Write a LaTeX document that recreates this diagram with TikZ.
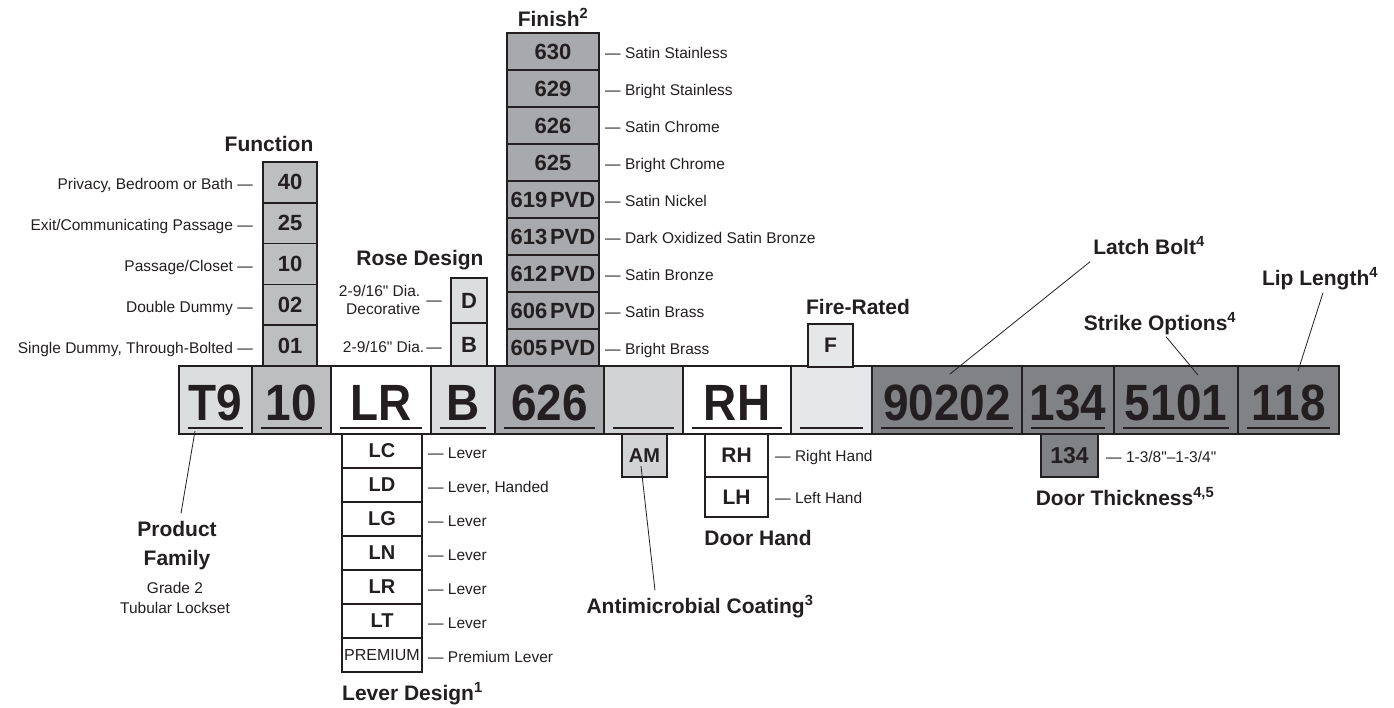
\documentclass[tikz,border=0pt]{standalone}
\usepackage{fontspec}
\setmainfont{Liberation Sans}
\newfontfamily\bignum{Liberation Sans}[FakeStretch=0.9]
\newfontfamily\qfont{Liberation Sans}
\newcommand{\inch}{{\qfont\symbol{34}}}
\definecolor{ink}{HTML}{231F20}
\definecolor{cLight}{HTML}{DCDDDE}
\definecolor{cMid}{HTML}{BCBEC0}
\definecolor{cFin}{HTML}{A7A9AC}
\definecolor{cAM}{HTML}{D1D3D4}
\definecolor{cFire}{HTML}{E6E7E8}
\definecolor{cDark}{HTML}{808285}
\tikzset{
  box/.style={draw=ink, line width=1.5pt, inner sep=0pt, text=ink, font=\bfseries\fontsize{22}{22}\selectfont},
  barcell/.style={draw=ink, line width=1.8pt, inner sep=0pt, text=ink, minimum height=68pt, text height=40pt, text depth=0pt, font=\bignum\bfseries\fontsize{51}{51}\selectfont},
  labbase/.style={inner sep=0pt, text=ink, font=\fontsize{15.5}{18.5}\selectfont},
  lab/.style={labbase, text height=11.2pt, text depth=0pt},
  ttl/.style={inner sep=1pt, text=ink, text height=15pt, text depth=0pt, font=\bfseries\fontsize{21}{25}\selectfont},
  uline/.style={draw=ink, line width=2pt},
  leader/.style={draw=ink, line width=0.8pt},
  fnbox/.style={box, fill=cMid, minimum width=54pt, minimum height=40.8pt},
  finbox/.style={box, fill=cFin, minimum width=92pt, minimum height=37pt},
  lvbox/.style={box, fill=white, minimum width=80pt, minimum height=34pt, font=\bfseries\fontsize{20}{20}\selectfont},
}
\begin{document}
\begin{tikzpicture}[x=1pt,y=-1pt]
\useasboundingbox (0,0) rectangle (1394,708);

% main bar
\foreach \n/\cx/\w/\f/\t in {cT9/215.5/73/cLight/T9, cFn/291.5/79/cMid/10, cLv/381/100/white/LR, cRs/463/64/cLight/B, cFi/549.5/109/cFin/626, cAm/643.5/79/cAM/{}, cDh/737/108/white/RH, cFr/831.5/81/cFire/{}, cLb/947/150/cDark/90202, cDt/1068/92/cDark/134, cSo/1176/124/cDark/5101, cLl/1288.5/101/cDark/118}{
  \node[barcell, fill=\f, minimum width=\w pt] (\n) at (\cx,400) {\t};
  \draw[uline] ([xshift=10pt,yshift=7pt]\n.south west) -- ([xshift=-10pt,yshift=7pt]\n.south east);
}

% Function
\node[ttl] (tFn) at (269,144) {Function};
\node[fnbox] (f40) at (290,182.4) {40};
\node[fnbox] (f25) at (290,223.2) {25};
\node[fnbox] (f10) at (290,264.0) {10};
\node[fnbox] (f02) at (290,304.8) {02};
\node[fnbox] (f01) at (290,345.6) {01};
\node[lab, anchor=east] (lf40) at (253,184.4) {Privacy, Bedroom or Bath —};
\node[lab, anchor=east] (lf25) at (253,225.2) {Exit/Communicating Passage —};
\node[lab, anchor=east] (lf10) at (253,266.0) {Passage/Closet —};
\node[lab, anchor=east] (lf02) at (253,306.8) {Double Dummy —};
\node[lab, anchor=east] (lf01) at (253,347.6) {Single Dummy, Through-Bolted —};

% Finish
\node[ttl] (tFi) at (553,19) {Finish\textsuperscript{2}};
\node[finbox] (n630) at (553,51.5) {630};
\node[finbox] (n629) at (553,88.5) {629};
\node[finbox] (n626) at (553,125.5) {626};
\node[finbox] (n625) at (553,162.5) {625};
\node[finbox] (n619) at (553,199.5) {619\hspace{0.12em}PVD};
\node[finbox] (n613) at (553,236.5) {613\hspace{0.12em}PVD};
\node[finbox] (n612) at (553,273.5) {612\hspace{0.12em}PVD};
\node[finbox] (n606) at (553,310.5) {606\hspace{0.12em}PVD};
\node[finbox] (n605) at (553,347.5) {605\hspace{0.12em}PVD};
\node[lab, anchor=west] (l630) at (605,52.5) {— Satin Stainless};
\node[lab, anchor=west] (l629) at (605,89.5) {— Bright Stainless};
\node[lab, anchor=west] (l626) at (605,126.5) {— Satin Chrome};
\node[lab, anchor=west] (l625) at (605,163.5) {— Bright Chrome};
\node[lab, anchor=west] (l619) at (605,200.5) {— Satin Nickel};
\node[lab, anchor=west] (l613) at (605,237.5) {— Dark Oxidized Satin Bronze};
\node[lab, anchor=west] (l612) at (605,274.5) {— Satin Bronze};
\node[lab, anchor=west] (l606) at (605,311.5) {— Satin Brass};
\node[lab, anchor=west] (l605) at (605,348.5) {— Bright Brass};

% Rose Design
\node[ttl] (tRs) at (420,258) {Rose Design};
\node[box, fill=cLight, minimum width=36pt, minimum height=45pt] (rD) at (469,300.5) {D};
\node[box, fill=cLight, minimum width=36pt, minimum height=43pt] (rB) at (469,344.5) {B};
\node[labbase, anchor=east] (lrD) at (442,302) {\begin{tabular}{@{}r@{}}2-9/16\inch{} Dia.\\Decorative\end{tabular}\hspace{6pt}—};
\node[lab, anchor=east] (lrB) at (442,347) {2-9/16\inch{} Dia.\hspace{2pt}—};

% Fire-Rated
\node[ttl] (tFr) at (858,307) {Fire-Rated};
\node[box, fill=cFire, minimum width=45pt, minimum height=43pt, font=\bfseries\fontsize{21}{21}\selectfont] (bF) at (830.5,345.5) {F};

% Lever Design
\node[lvbox] (vLC) at (382,451) {LC};
\node[lvbox] (vLD) at (382,485) {LD};
\node[lvbox] (vLG) at (382,519) {LG};
\node[lvbox] (vLN) at (382,553) {LN};
\node[lvbox] (vLR) at (382,587) {LR};
\node[lvbox] (vLT) at (382,621) {LT};
\node[lvbox, font=\fontsize{16}{16}\selectfont] (vPR) at (382,655) {PREMIUM};
\node[lab, anchor=west] (lLC) at (428,453) {— Lever};
\node[lab, anchor=west] (lLD) at (428,487) {— Lever, Handed};
\node[lab, anchor=west] (lLG) at (428,521) {— Lever};
\node[lab, anchor=west] (lLN) at (428,555) {— Lever};
\node[lab, anchor=west] (lLR) at (428,589) {— Lever};
\node[lab, anchor=west] (lLT) at (428,623) {— Lever};
\node[lab, anchor=west] (lPR) at (428,657) {— Premium Lever};
\node[ttl, anchor=west] (tLv) at (341,693) {Lever Design\textsuperscript{1}};

% Antimicrobial
\node[box, fill=cAM, minimum width=45pt, minimum height=43pt, font=\bfseries\fontsize{20}{20}\selectfont] (bAM) at (644.5,455.5) {AM};
\node[ttl] (tAc) at (700,606) {Antimicrobial Coating\textsuperscript{3}};
\coordinate (amA) at (641,466);
\draw[leader] (amA) -- ([xshift=-45pt,yshift=7pt]tAc.north);

% Door Hand
\node[box, fill=white, minimum width=63pt, minimum height=43pt, font=\bfseries\fontsize{21}{21}\selectfont] (hRH) at (736.5,455.5) {RH};
\node[box, fill=white, minimum width=63pt, minimum height=40pt, font=\bfseries\fontsize{21}{21}\selectfont] (hLH) at (736.5,497) {LH};
\node[lab, anchor=west] (lRH) at (775,456) {— Right Hand};
\node[lab, anchor=west] (lLH) at (775,498) {— Left Hand};
\node[ttl] (tDh) at (758,538) {Door Hand};

% Door Thickness
\node[box, fill=cDark, minimum width=57pt, minimum height=43pt, font=\bfseries\fontsize{23}{23}\selectfont] (b134) at (1069.5,455.5) {134};
\node[lab, anchor=west] (l134) at (1106,457) {— 1-3/8\inch–1-3/4\inch};
\node[ttl] (tDt) at (1125,498) {Door Thickness\textsuperscript{4,5}};

% Product Family
\node[ttl] (pf1) at (177,529) {Product};
\node[ttl] (pf2) at (177,558) {Family};
\node[lab] (pf3) at (175,588) {Grade 2};
\node[lab] (pf4) at (175,608) {Tubular Lockset};
\coordinate (pfA) at (195,431);
\draw[leader] (pfA) -- ([xshift=4pt,yshift=7pt]pf1.north);

% Latch Bolt, Strike, Lip
\node[ttl] (tLb) at (1149,247) {Latch Bolt\textsuperscript{4}};
\node[ttl] (tSo) at (1160,323) {Strike Options\textsuperscript{4}};
\node[ttl] (tLl) at (1320,278) {Lip Length\textsuperscript{4}};
\coordinate (lbA) at (950,374);
\coordinate (soA) at (1198,375);
\coordinate (llA) at (1298,371);
\draw[leader] ([xshift=-2pt,yshift=-6pt]tLb.south west) -- (lbA);
\draw[leader] ([xshift=6pt,yshift=-5pt]tSo.south) -- (soA);
\draw[leader] ([xshift=3pt,yshift=-6pt]tLl.south) -- (llA);
\end{tikzpicture}
\end{document}
